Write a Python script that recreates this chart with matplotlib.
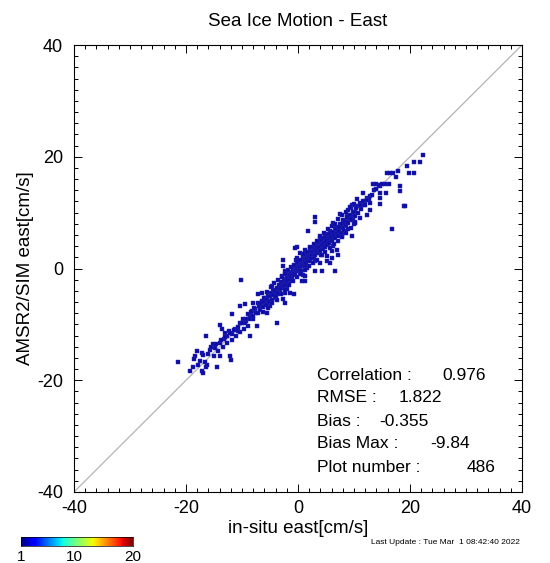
import numpy as np
import matplotlib
matplotlib.use("Agg")
import matplotlib.pyplot as plt
from matplotlib.ticker import MultipleLocator

plt.rcParams['font.family'] = ['Liberation Sans', 'DejaVu Sans']
plt.rcParams['axes.unicode_minus'] = False

title = "Sea Ice Motion - East"
xlabel = "in-situ east[cm/s]"
ylabel = "AMSR2/SIM east[cm/s]"
update = "Last Update : Tue Mar  1 08:42:40 2022"

stat_names = ["Correlation :", "RMSE :", "Bias :", "Bias Max :", "Plot number :"]
stat_values = ["0.976", "1.822", "-0.355", "-9.84", "486"]

cbar_ticks = [1, 10, 20]

# points (in-situ, AMSR2), cm/s
pts = [
    # upper right tail
    (22.4, 20.3), (21.8, 19.0), (20.7, 19.0), (19.5, 18.3), (19.9, 17.1), (20.7, 17.1),
    (17.9, 17.5), (17.0, 17.1), (15.9, 17.1), (16.5, 17.1), (17.5, 16.3), (18.3, 14.7),
    (18.3, 13.9), (19.0, 11.1), (16.7, 7.1), (16.3, 15.1), (15.8, 13.5), (14.6, 13.5),
    (14.6, 12.6), (14.6, 11.6), (13.4, 15.1), (13.9, 15.1), (14.6, 14.7), (15.5, 15.1),
    (11.6, 13.5), (12.3, 12.6), (12.6, 12.4), (12.0, 12.1), (12.9, 11.7), (12.9, 10.5),
    (12.3, 9.6), (11.8, 11.4), (11.1, 11.7), (10.5, 11.1), (9.6, 11.4), (9.5, 10.8),
    (10.2, 10.2), (9.9, 9.6), (9.0, 10.5), (8.7, 9.6), (8.7, 8.75), (9.2, 8.75),
    (9.8, 8.75), (10.2, 8.4), (10.0, 7.9), (7.5, 9.8), (8.0, 8.75), (7.5, 7.9),
    (7.8, 7.3), (7.2, 7.1), (8.4, 7.6), (9.0, 7.0), (9.6, 5.8), (8.1, 6.4),
    (7.8, 5.8), (6.3, 8.2), (6.6, 7.3), (5.7, 6.7), (3.1, 9.2), (3.1, 8.3),
    (1.8, 6.7), (5.1, 6.1), (5.7, 5.5), (4.8, 5.2), (6.0, 4.9), (3.9, 5.5),
    (4.2, 4.6), (3.3, 4.0), (4.5, 4.0), (5.4, 4.3), (6.3, 4.0), (6.9, 3.4),
    (6.0, 3.1), (7.2, 2.5), (2.1, 3.7), (1.25, 3.4), (2.4, 2.8), (0.95, 2.5),
    (-0.2, 3.9), (3.3, 2.8), (4.2, 2.5), (5.1, 2.2), (6.0, 1.9), (0.4, 2.8),
    (-0.2, 1.9), (0.7, 1.3), (2.1, 1.6), (3.0, 1.3), (3.9, 1.0), (5.1, 1.3),
    (5.7, 0.9), (3.0, -0.5), (4.2, -0.5), (6.6, -0.5), (0.9, 0.4), (1.6, 0.1),
    (-0.5, -0.2), (0.4, -0.8), (1.25, -1.4), (19.1, 11.1),
    # lower left tail
    (-21.4, -16.8), (-19.3, -18.3), (-18.7, -17.7), (-17.2, -18.3), (-16.9, -18.75),
    (-16.4, -17.7), (-16.3, -17.3), (-18.4, -15.7), (-17.5, -16.6), (-17.2, -15.1),
    (-18.0, -14.8), (-16.4, -12.1), (-14.5, -17.7), (-13.9, -15.7), (-12.1, -15.7),
    (-12.0, -16.4), (-15.7, -14.5), (-14.8, -14.2), (-15.1, -13.6), (-13.9, -13.3),
    (-13.3, -12.7), (-13.9, -10.2), (-13.6, -10.9), (-13.0, -11.5), (-12.4, -11.2),
    (-12.7, -12.1), (-11.8, -11.8), (-11.25, -10.9), (-10.7, -11.2), (-10.4, -9.7),
    (-9.8, -9.1), (-11.7, -8.2), (-10.4, -6.7), (-9.5, -6.4), (-10.1, -2.0),
    (-8.6, -12.1), (-8.9, -10.3), (-9.2, -9.4), (-8.6, -8.5), (-8.0, -9.1),
    (-7.4, -10.3), (-8.3, -7.6), (-7.7, -7.2), (-8.1, -6.25), (-7.1, -6.1),
    (-6.5, -5.8), (-7.1, -4.6), (-6.5, -4.3), (-5.9, -5.2), (-5.3, -5.8),
    (-5.0, -6.7), (-5.6, -7.9), (-6.2, -6.7), (-3.8, -9.7), (-4.7, -3.2),
    (-4.4, -4.0), (-3.8, -4.6), (-3.2, -4.3), (-4.1, -5.2), (-2.6, 1.6),
    (-2.6, 0.4), (-2.3, -0.5), (-2.9, -1.4), (-2.6, -5.5), (-2.3, -6.1),
    (-1.7, -2.6), (-2.0, -3.75), (-1.4, -4.3), (-0.8, -4.5), (-2.3, -4.3),
    (-0.5, 3.7), (0.9, 2.2), (-0.4, 1.6), (0.4, 1.0), (0.7, -2.3), (1.25, -2.3),
    (0.9, -1.1), (-1.4, -2.3),
    # core along the diagonal
    (-9.5, -9.8), (-9.0, -8.2), (-8.8, -9.0), (-8.4, -7.8), (-8.0, -8.5), (-7.8, -7.0),
    (-7.5, -7.9), (-7.2, -8.0), (-7.0, -6.8), (-6.8, -7.4), (-6.6, -6.2), (-6.3, -6.9),
    (-6.0, -6.0), (-6.0, -5.2), (-5.8, -6.5), (-5.5, -5.5), (-5.3, -4.9), (-5.1, -6.0),
    (-5.0, -5.0), (-4.8, -4.4), (-4.6, -5.6), (-4.5, -4.8), (-4.3, -3.9), (-4.0, -4.9),
    (-3.9, -4.2), (-3.7, -3.5), (-3.5, -4.4), (-3.4, -3.0), (-3.2, -3.7), (-3.0, -2.8),
    (-3.0, -3.5), (-2.8, -2.4), (-2.7, -3.2), (-2.5, -2.2), (-2.4, -2.9), (-2.2, -1.8),
    (-2.1, -2.5), (-2.0, -1.3), (-1.9, -2.1), (-1.8, -1.6), (-1.6, -0.9), (-1.5, -1.9),
    (-1.4, -1.2), (-1.2, -0.6), (-1.1, -1.5), (-1.0, -0.9), (-0.9, -0.3), (-0.8, -1.2),
    (-0.7, -0.6), (-0.6, 0.1), (-0.5, -0.8), (-0.4, -0.2), (-0.3, 0.4), (-0.2, -0.5),
    (-0.1, 0.1), (0.0, -0.3), (0.1, 0.6), (0.2, 0.0), (0.3, 0.9), (0.4, 0.3),
    (0.5, -0.4), (0.6, 1.1), (0.7, 0.5), (0.8, 1.5), (0.9, 0.8), (1.0, 1.9),
    (1.1, 1.2), (1.2, 0.6), (1.3, 1.6), (1.4, 2.2), (1.5, 1.0), (1.6, 1.8),
    (1.7, 2.5), (1.8, 1.4), (1.9, 2.9), (2.0, 2.0), (2.1, 1.3), (2.2, 2.6),
    (2.3, 3.2), (2.4, 1.8), (2.5, 2.4), (2.6, 3.5), (2.7, 2.9), (2.8, 1.9),
    (2.9, 3.8), (3.0, 3.1), (3.1, 2.4), (3.2, 4.1), (3.3, 3.4), (3.4, 2.7),
    (3.5, 4.5), (3.6, 3.6), (3.7, 2.9), (3.8, 4.8), (3.9, 3.9), (4.0, 3.2),
    (4.1, 5.1), (4.2, 4.2), (4.4, 3.5), (4.5, 5.4), (4.6, 4.5), (4.8, 3.9),
    (4.9, 5.7), (5.0, 4.9), (5.2, 4.2), (5.3, 6.0), (5.5, 5.3), (5.6, 4.6),
    (5.8, 6.2), (5.9, 5.6), (6.1, 5.0), (6.2, 6.6), (6.4, 6.0), (6.6, 5.4),
    (6.7, 7.0), (6.9, 6.4), (7.1, 5.9), (7.3, 7.4), (7.4, 6.8), (7.6, 6.3),
    (7.8, 7.9), (8.0, 7.2), (8.2, 6.7), (8.4, 8.3), (8.6, 7.8), (8.8, 9.2),
    (9.0, 8.1), (9.3, 9.6), (9.5, 8.9), (9.8, 10.1), (10.1, 9.4), (10.4, 10.8),
    (10.7, 10.0), (11.0, 11.3), (11.3, 10.6), (11.6, 12.0), (12.0, 11.4), (12.4, 12.3),
    (12.8, 12.9), (13.2, 13.2), (13.6, 14.0), (14.0, 14.3), (14.4, 14.9), (15.0, 15.2),
    (-5.6, -4.2), (-4.9, -3.4), (-4.2, -2.6), (-3.6, -2.0), (-2.9, -1.6), (-2.3, -0.9),
    (-1.7, -0.2), (-1.3, 0.3), (-0.8, 0.7), (-0.2, 1.2), (0.4, 1.6), (1.0, 2.6),
    (1.6, 3.0), (2.2, 3.8), (2.8, 4.4), (3.4, 5.0), (4.0, 5.8), (4.7, 6.4),
    (5.4, 7.0), (6.0, 7.6), (6.6, 8.0), (7.2, 8.8), (7.9, 9.5), (8.5, 10.2),
    (9.2, 11.0), (10.0, 11.6), (10.6, 12.4),
    (-6.2, -7.8), (-5.4, -7.0), (-4.6, -6.2), (-3.8, -5.6), (-3.0, -4.6), (-2.3, -3.8),
    (-1.6, -3.0), (-0.9, -2.2), (-0.2, -1.6), (0.6, -0.9), (1.3, -0.2), (2.0, 0.4),
    (2.7, 1.0), (3.4, 1.6), (4.1, 2.4), (4.9, 3.0), (5.7, 3.6), (6.4, 4.3),
    (7.1, 5.0), (7.9, 5.6), (8.6, 6.4), (9.4, 7.2), (10.2, 8.2), (11.0, 9.0),
    (-16.0, -15.3), (-15.5, -14.0), (-15.0, -15.6), (-14.6, -13.5), (-14.2, -14.8),
    (-13.8, -12.8), (-13.4, -14.0), (-13.0, -12.3), (-12.6, -13.4), (-12.2, -11.6),
    (-11.8, -12.8), (-11.4, -11.0), (-11.0, -12.0), (-10.7, -10.5), (-10.3, -11.4),
    (-10.0, -9.8), (-9.7, -10.8), (-9.3, -9.0), (-18.6, -16.2), (-17.8, -17.2),
    (-17.0, -15.5), (-16.6, -16.8),
]
insitu_east = [p[0] for p in pts]
amsr2_east = [p[1] for p in pts]

W, H = 550, 563
fig = plt.figure(figsize=(W / 100, H / 100), dpi=100)

def px(x0, y0, x1, y1):
    return [x0 / W, 1 - y1 / H, (x1 - x0) / W, (y1 - y0) / H]

ax = fig.add_axes(px(74, 45, 522, 492))
ax.plot([-40, 40], [-40, 40], color='#b4b4b4', lw=0.9, zorder=1)
ax.scatter(insitu_east, amsr2_east, marker='s', s=7, color='#0c0ca6',
           edgecolors='#2a2ab4', linewidths=0.3, zorder=2)

ax.set_xlim(-40, 40)
ax.set_ylim(-40, 40)
ax.xaxis.set_major_locator(MultipleLocator(20))
ax.yaxis.set_major_locator(MultipleLocator(20))
ax.xaxis.set_minor_locator(MultipleLocator(2))
ax.yaxis.set_minor_locator(MultipleLocator(2))
ax.tick_params(which='both', direction='in', top=True, right=True, width=0.7)
ax.tick_params(which='major', length=6, labelsize=13)
ax.tick_params(axis='x', which='major', pad=6)
ax.tick_params(axis='y', which='major', pad=8)
ax.tick_params(which='minor', length=3)
for s in ax.spines.values():
    s.set_linewidth(0.8)

ax.set_title(title, fontsize=13.5, pad=14)
ax.set_xlabel(xlabel, fontsize=13.5, labelpad=2)
ax.set_ylabel(ylabel, fontsize=13.5, labelpad=2)

# statistics block
ys = [375, 398, 421, 444, 467]
xv = [442, 399, 379, 430, 467]
for name, val, y, x in zip(stat_names, stat_values, ys, xv):
    fig.text(317 / W, 1 - y / H, name, fontsize=12.5, va='center')
    fig.text(x / W, 1 - y / H, val, fontsize=12.5, va='center')

# colour bar
cax = fig.add_axes(px(21, 537, 133, 546))
grad = np.linspace(1, 20, 256).reshape(1, -1)
cax.imshow(grad, aspect='auto', cmap='jet', extent=[1, 20, 0, 1])
cax.set_xticks(cbar_ticks)
cax.set_yticks([])
cax.tick_params(axis='x', length=0, labelsize=11, pad=3)
for s in cax.spines.values():
    s.set_linewidth(0.5)

fig.text(520 / W, 1 - 543 / H, update, fontsize=6, ha='right', va='center')

fig.savefig('out.png', dpi=100)
